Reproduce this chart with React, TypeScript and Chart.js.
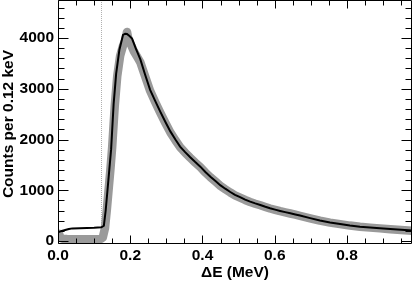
import React, { useEffect, useRef } from "react";
import { Chart, registerables } from "chart.js";

Chart.register(...registerables);

// Fit curve (black line)
const fitEnergy = [
  0.0, 0.005, 0.01, 0.02, 0.03, 0.04, 0.06, 0.08, 0.1, 0.12, 0.127, 0.132, 0.137, 0.142, 0.147,
  0.154, 0.161, 0.17, 0.18, 0.186, 0.191, 0.198, 0.205, 0.215, 0.228, 0.241, 0.255, 0.269, 0.283,
  0.297, 0.311, 0.325, 0.338, 0.352, 0.366, 0.38, 0.394, 0.408, 0.422, 0.436, 0.449, 0.463, 0.477,
  0.49, 0.504, 0.518, 0.532, 0.546, 0.56, 0.574, 0.587, 0.601, 0.615, 0.629, 0.643, 0.657, 0.67,
  0.698, 0.725, 0.753, 0.781, 0.808, 0.836, 0.864, 0.891, 0.92, 0.95, 0.98,
];
const fitCounts = [
  170, 185, 195, 215, 235, 248, 252, 256, 260, 268, 300, 600, 1000, 1400, 1800,
  2700, 3300, 3770, 4060, 4085, 4080, 4040, 3990, 3800, 3580, 3280, 2980, 2760, 2550,
  2350, 2160, 2000, 1860, 1750, 1650, 1555, 1465, 1360, 1265, 1180, 1100, 1030, 965,
  910, 865, 815, 775, 740, 710, 675, 645, 618, 592, 568, 546, 522, 500,
  450, 405, 365, 335, 305, 282, 265, 250, 235, 220, 205,
];

// Measured spectrum (grey markers)
const dataEnergy = [
  0.0, 0.003, 0.007, 0.012, 0.025, 0.05, 0.075, 0.1, 0.118, 0.124, 0.13, 0.135, 0.14, 0.145, 0.15,
  0.157, 0.164, 0.172, 0.18, 0.186, 0.191, 0.195, 0.2, 0.21, 0.22, 0.228, 0.241, 0.255, 0.269, 0.283,
  0.297, 0.311, 0.325, 0.338, 0.352, 0.366, 0.38, 0.394, 0.408, 0.422, 0.436, 0.449, 0.463, 0.477,
  0.49, 0.504, 0.518, 0.532, 0.546, 0.56, 0.574, 0.587, 0.601, 0.615, 0.629, 0.643, 0.657, 0.67,
  0.698, 0.725, 0.753, 0.781, 0.808, 0.836, 0.864, 0.891, 0.92, 0.95, 0.98,
];
const dataCounts = [
  100, 140, 60, 45, 40, 35, 35, 35, 40, 70, 250, 600, 1000, 1400, 1850,
  2650, 3250, 3650, 3850, 3950, 4120, 3980, 3900, 3740, 3620, 3520, 3250, 2960, 2740, 2530,
  2330, 2140, 1985, 1850, 1740, 1640, 1545, 1455, 1350, 1255, 1170, 1090, 1020, 955,
  900, 855, 808, 768, 734, 704, 670, 640, 614, 587, 564, 541, 517, 496,
  447, 400, 362, 332, 303, 280, 263, 248, 233, 218, 203,
];

const xMajorTicks = [0, 0.2, 0.4, 0.6, 0.8];
const xMinorTicks = [0.05, 0.1, 0.15, 0.25, 0.3, 0.35, 0.45, 0.5, 0.55, 0.65, 0.7, 0.75, 0.85, 0.9, 0.95];
const yMajorTicks = [0, 1000, 2000, 3000, 4000];
const yMinorTicks = [
  200, 400, 600, 800, 1200, 1400, 1600, 1800, 2200, 2400, 2600, 2800, 3200, 3400, 3600, 3800, 4200, 4400, 4600,
];
const thresholdEnergy = [0.12];
const xTitle = "ΔE (MeV)";
const yTitle = "Counts per 0.12 keV";

const FONT_FAMILY = '"Liberation Sans", Arial, Helvetica, sans-serif';

const framePlugin = {
  id: "rootFrame",
  beforeDatasetsDraw(chart: any) {
    const { ctx, chartArea, scales } = chart;
    ctx.save();
    ctx.strokeStyle = "#b0b0b0";
    ctx.lineWidth = 1;
    ctx.setLineDash([1, 1]);
    for (const e of thresholdEnergy) {
      const x = Math.round(scales.x.getPixelForValue(e)) + 0.5;
      ctx.beginPath();
      ctx.moveTo(x, chartArea.top);
      ctx.lineTo(x, chartArea.bottom);
      ctx.stroke();
    }
    ctx.restore();
  },
  afterDraw(chart: any) {
    const { ctx, chartArea, scales } = chart;
    const { left, right, top, bottom } = chartArea;
    ctx.save();
    ctx.strokeStyle = "#000";
    ctx.lineWidth = 1;
    ctx.setLineDash([]);
    const L = Math.round(left) + 0.5;
    const R = Math.round(right) - 0.5;
    const T = Math.round(top) + 0.5;
    const B = Math.round(bottom) - 0.5;
    ctx.beginPath();
    ctx.rect(L, T, R - L, B - T);
    ctx.stroke();

    const drawX = (vals: number[], len: number) => {
      for (const v of vals) {
        const x = Math.round(scales.x.getPixelForValue(v)) + 0.5;
        ctx.beginPath();
        ctx.moveTo(x, B);
        ctx.lineTo(x, B - len);
        ctx.moveTo(x, T);
        ctx.lineTo(x, T + len);
        ctx.stroke();
      }
    };
    const drawY = (vals: number[], len: number) => {
      for (const v of vals) {
        const y = Math.round(scales.y.getPixelForValue(v)) + 0.5;
        ctx.beginPath();
        ctx.moveTo(L, y);
        ctx.lineTo(L + len, y);
        ctx.moveTo(R, y);
        ctx.lineTo(R - len, y);
        ctx.stroke();
      }
    };
    drawX(xMajorTicks, 8);
    drawX(xMinorTicks, 5);
    drawY(yMajorTicks, 10);
    drawY(yMinorTicks, 6);

    ctx.fillStyle = "#000";
    ctx.font = `bold 15.5px ${FONT_FAMILY}`;
    ctx.textAlign = "center";
    ctx.textBaseline = "alphabetic";
    ctx.fillText(xTitle, (left + right) / 2, 276.5);

    ctx.translate(12.7, (top + bottom) / 2 + 2);
    ctx.rotate(-Math.PI / 2);
    ctx.fillText(yTitle, 0, 0);
    ctx.restore();
  },
};

export default function App() {
  const canvasRef = useRef<HTMLCanvasElement | null>(null);

  useEffect(() => {
    if (!canvasRef.current) return;
    const chart = new Chart(canvasRef.current, {
      type: "line",
      data: {
        datasets: [
          {
            label: "fit",
            data: fitEnergy.map((x, i) => ({ x, y: fitCounts[i] })),
            borderColor: "#000000",
            borderWidth: 2,
            pointRadius: 0,
            tension: 0,
            fill: false,
          },
          {
            label: "data",
            data: dataEnergy.map((x, i) => ({ x, y: dataCounts[i] })),
            borderColor: "#9a9a9a",
            borderWidth: 8.5,
            borderCapStyle: "round",
            borderJoinStyle: "round",
            pointRadius: 0,
            tension: 0,
            fill: false,
          },
        ],
      },
      options: {
        animation: false,
        responsive: false,
        layout: { padding: { left: 0, right: 3, top: 0, bottom: 0 } },
        plugins: { legend: { display: false }, tooltip: { enabled: false } },
        scales: {
          x: {
            type: "linear",
            min: 0,
            max: 0.98,
            grid: { display: false, drawTicks: false },
            border: { display: false },
            afterBuildTicks: (scale: any) => {
              scale.ticks = xMajorTicks.map((value) => ({ value }));
            },
            afterFit: (scale: any) => {
              scale.height = 37;
              scale.paddingLeft = 0;
              scale.paddingRight = 0;
            },
            ticks: {
              padding: 2,
              color: "#000",
              maxRotation: 0,
              font: { family: FONT_FAMILY, size: 15.5, weight: "bold" },
              callback: (v: any) => Number(v).toFixed(1),
            },
          },
          y: {
            type: "linear",
            min: -60,
            max: 4750,
            grid: { display: false, drawTicks: false },
            border: { display: false },
            afterBuildTicks: (scale: any) => {
              scale.ticks = yMajorTicks.map((value) => ({ value }));
            },
            afterFit: (scale: any) => {
              scale.width = 58;
              scale.paddingTop = 0;
              scale.paddingBottom = 0;
            },
            ticks: {
              padding: 4,
              color: "#000",
              font: { family: FONT_FAMILY, size: 15.5, weight: "bold" },
              callback: (v: any) => String(v),
            },
          },
        },
      },
      plugins: [framePlugin],
    });
    return () => chart.destroy();
  }, []);

  return (
    <div style={{ position: "fixed", left: 0, top: 0, width: 415, height: 281, background: "#fff" }}>
      <canvas ref={canvasRef} width={415} height={281} style={{ display: "block" }} />
    </div>
  );
}
